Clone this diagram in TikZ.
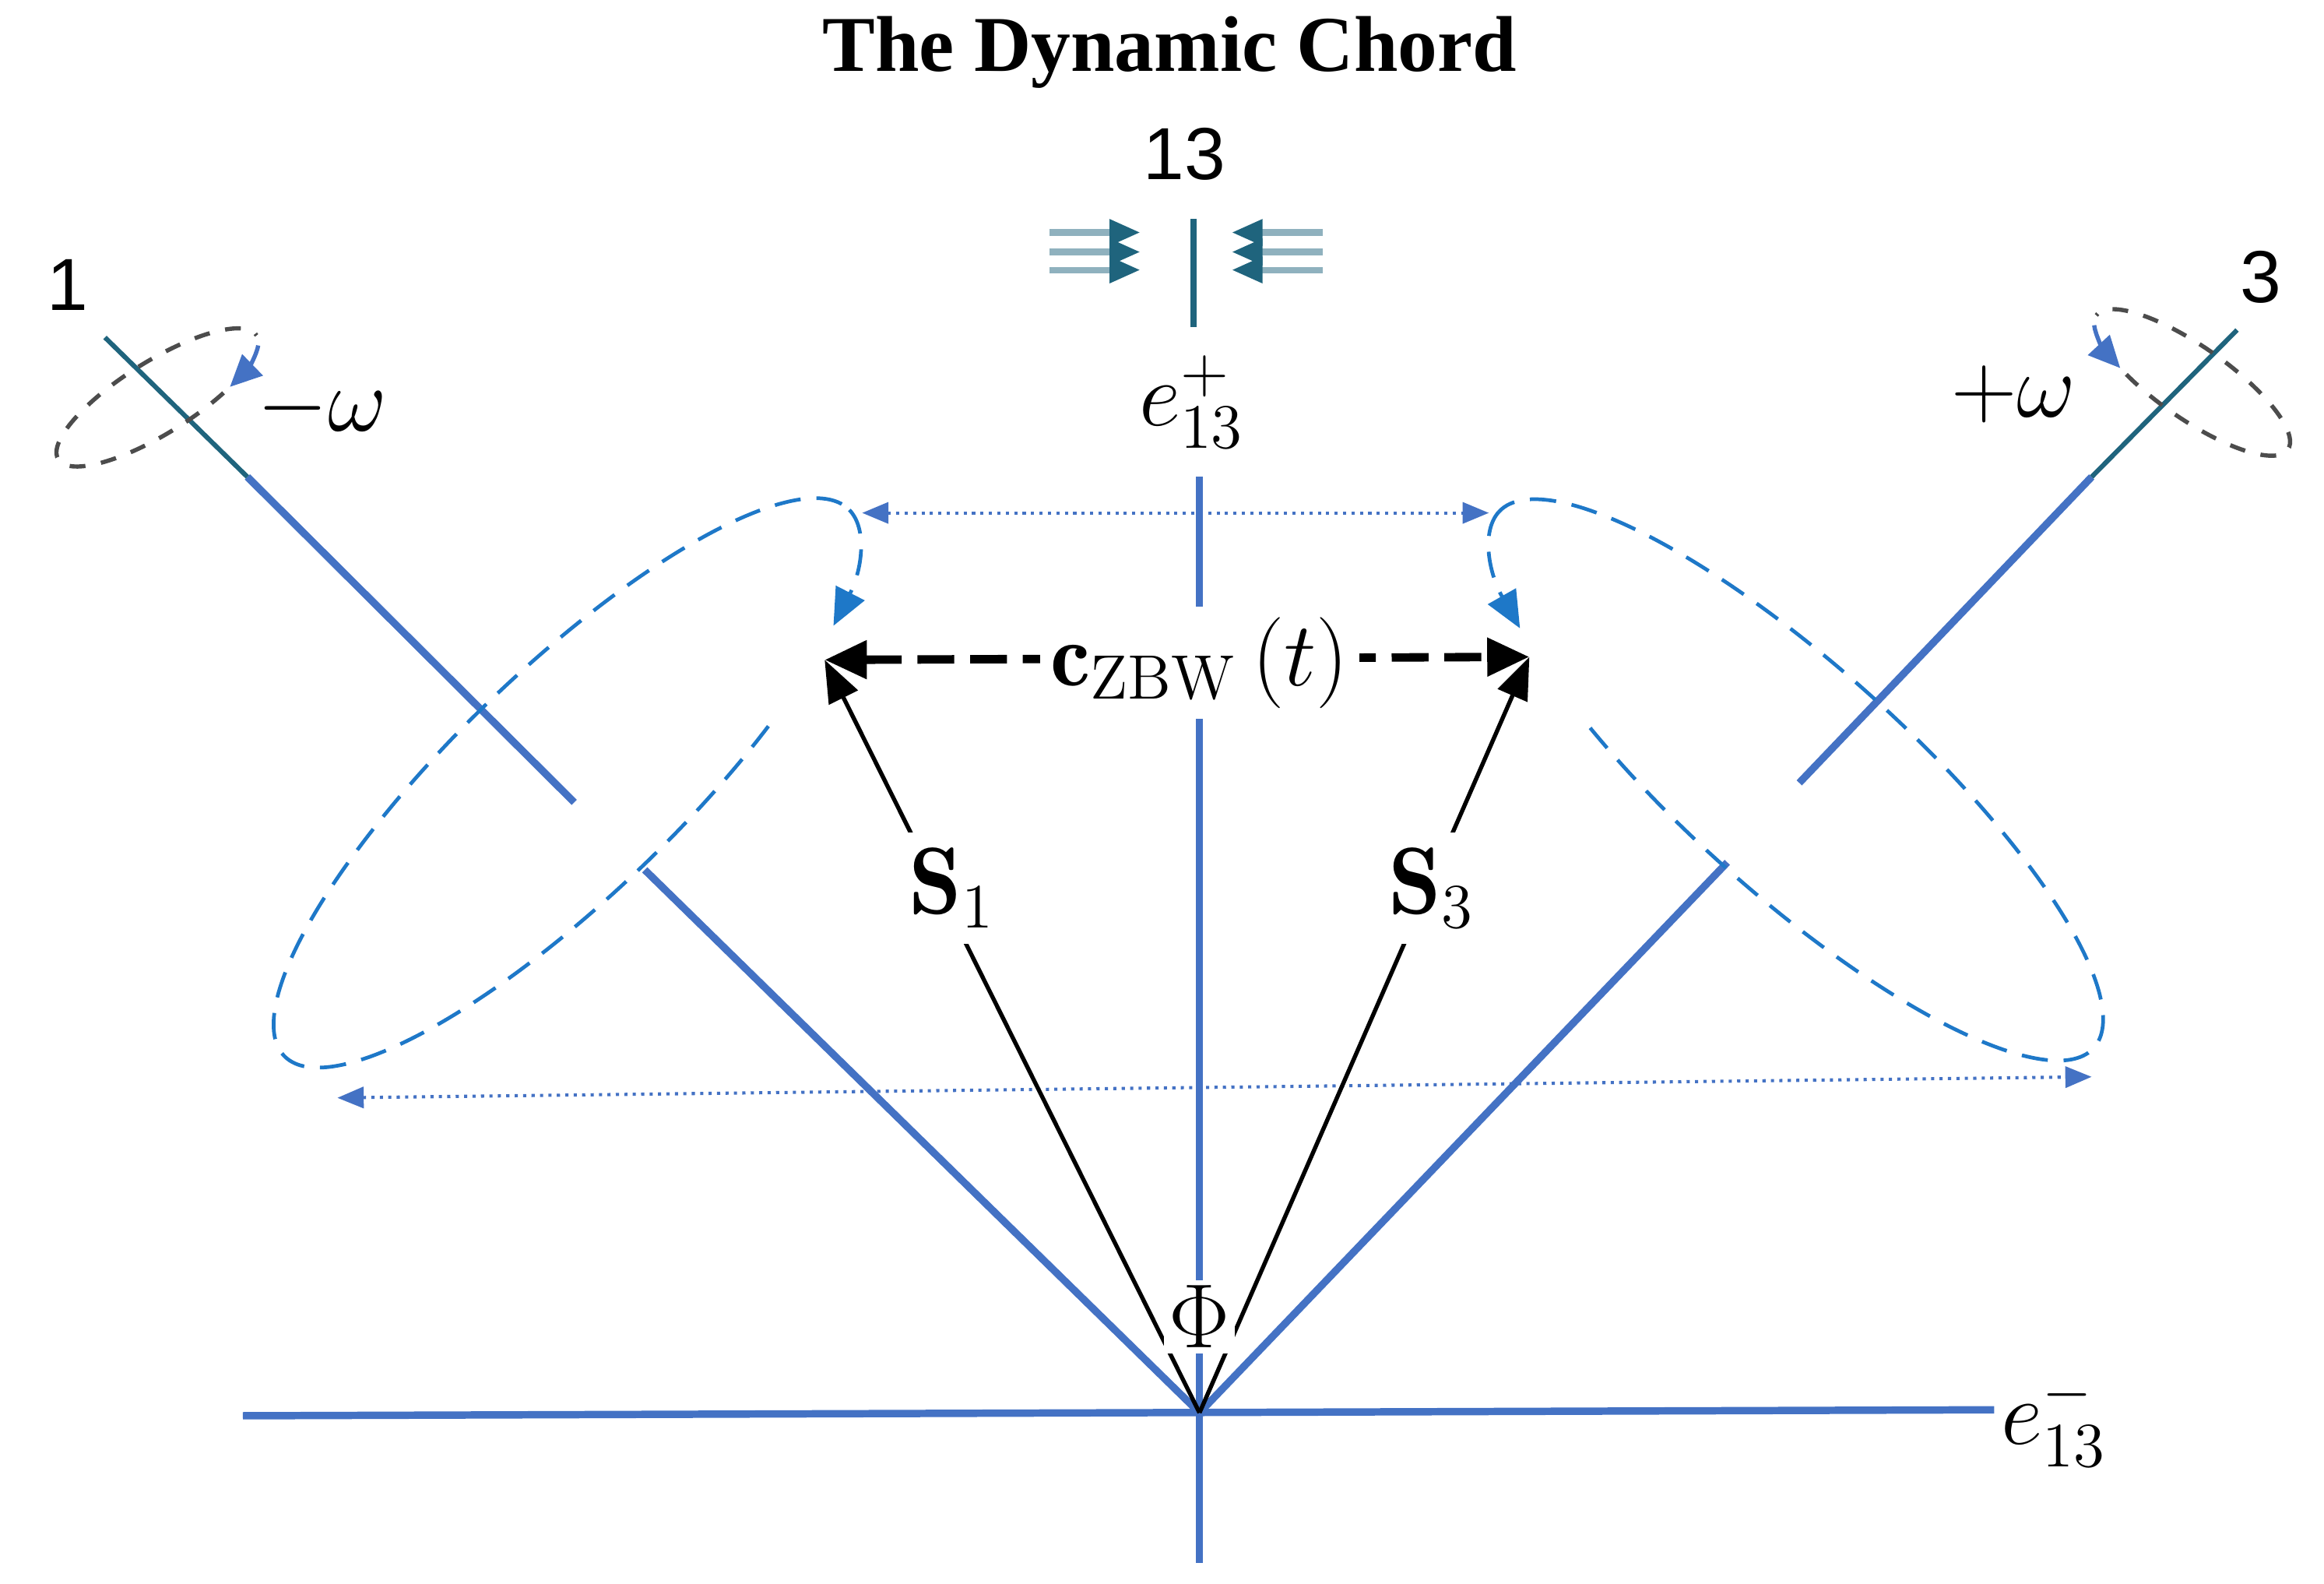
\documentclass[tikz,border=0pt]{standalone}
\usepackage{fontspec}
\newfontfamily\sansf{Liberation Sans}
\newfontfamily\seriff{Liberation Serif}
\usetikzlibrary{arrows.meta}
\definecolor{bl}{RGB}{68,114,196}
\definecolor{tl}{RGB}{31,100,125}
\definecolor{db}{RGB}{30,120,200}
\begin{document}
\begin{tikzpicture}[x=0.1mm,y=-0.1mm,
  axis/.style={bl,line width=1.4pt},
  tax/.style={tl,line width=0.9pt},
  bigell/.style={db,dashed,line width=0.7pt,dash pattern=on 5pt off 3pt},
  smallell/.style={black!70,dashed,line width=0.8pt},
  tip/.style={-{Triangle[length=6pt,width=5.5pt]},bl,line width=0.8pt},
  dotarr/.style={bl,densely dotted,line width=0.6pt,{Triangle[length=5pt,width=4pt]}-{Triangle[length=5pt,width=4pt]}},
  lab/.style={font=\fontsize{16}{18}\selectfont},
  num/.style={font=\sansf\fontsize{14}{16}\selectfont}]
\useasboundingbox (0,0) rectangle (1550,1056);
\coordinate (O) at (800,942);
% axes
\draw[axis] (800,318) -- (800,1042);
\draw[axis] (162,944) -- (1330,940);
\draw[tl,line width=1.3pt] (796,146) -- (796,218);
% left diagonal
\draw[axis] (O) -- (430,580);
\draw[axis] (383,535) -- (165,318);
\draw[tax] (165,318) -- (70,225);
% right diagonal
\draw[axis] (O) -- (1152,575);
\draw[axis] (1200,522) -- (1395,318);
\draw[tax] (1395,318) -- (1492,220);
% flux arrows
\foreach \yy in {155,168,180}{
  \draw[tl!50,line width=1.2pt] (700,\yy) -- (742,\yy);
  \fill[tl] (740,\yy-9) -- (760,\yy) -- (740,\yy+9) -- cycle;
  \draw[tl!50,line width=1.2pt] (840,\yy) -- (882,\yy);
  \fill[tl] (842,\yy-9) -- (822,\yy) -- (842,\yy+9) -- cycle;
}
\node[num] (n13) at (790,103) {13};
\node[num] (n1) at (45,190) {1};
\node[num] (n3) at (1508,185) {3};
% small ellipses
\begin{scope}[shift={(105,265)},rotate=32]
\draw[smallell] (60:78 and 24) arc[start angle=60,end angle=360,x radius=78,y radius=24];
\draw[tip] (15:78 and 24) arc[start angle=15,end angle=55,x radius=78,y radius=24];
\end{scope}
\begin{scope}[shift={(1462,255)},rotate=-35]
\draw[smallell] (120:78 and 24) arc[start angle=120,end angle=-180,x radius=78,y radius=24];
\draw[tip] (165:78 and 24) arc[start angle=165,end angle=125,x radius=78,y radius=24];
\end{scope}
\node[lab] (mw) at (215,272) {$-\omega$};
\node[lab] (pw) at (1343,263) {$+\omega$};
\node[lab,font=\fontsize{18}{20}\selectfont] (ep) at (795,268) {$e_{13}^{+}$};
\node[lab,font=\fontsize{18}{20}\selectfont] (em) at (1370,947) {$e_{13}^{-}$};
% big ellipses
\begin{scope}[shift={(378,522)},rotate=44]
\draw[bigell] (62:262 and 75) arc[start angle=62,end angle=360,x radius=262,y radius=75];
\draw[bigell,-{Triangle[length=7pt,width=6pt]}] (0:262 and 75) arc[start angle=0,end angle=40,x radius=262,y radius=75];
\end{scope}
\begin{scope}[shift={(1198,520)},rotate=-42]
\draw[bigell] (118:267 and 75) arc[start angle=118,end angle=-180,x radius=267,y radius=75];
\draw[bigell,-{Triangle[length=7pt,width=6pt]}] (180:267 and 75) arc[start angle=180,end angle=140,x radius=267,y radius=75];
\end{scope}
% dotted double arrows
\coordinate (ta) at (575,342); \coordinate (tb) at (993,342);
\coordinate (ba) at (225,732); \coordinate (bb) at (1395,718);
\draw[dotarr] (ta) -- (tb);
\draw[dotarr] (ba) -- (bb);
% S vectors
\coordinate (P1) at (550,440); \coordinate (P3) at (1020,438);
\draw[black,line width=0.8pt,-{Triangle[length=8pt,width=6pt]}] (O) -- (P1);
\draw[black,line width=0.8pt,-{Triangle[length=8pt,width=6pt]}] (O) -- (P3);
\draw[black,line width=1.6pt,dash pattern=on 7pt off 3pt,{Triangle[length=8pt,width=7pt]}-{Triangle[length=8pt,width=7pt]}] (P1) -- (P3);
\node[lab,fill=white,inner sep=2pt,font=\fontsize{17}{20}\selectfont] (cz) at (800,442) {$\mathbf{c}_{\mathrm{ZBW}}\left(t\right)$};
\node[lab,fill=white,inner sep=3pt,font=\fontsize{18}{20}\selectfont] (s1) at (635,592) {$\mathbf{S}_{1}$};
\node[lab,fill=white,inner sep=3pt,font=\fontsize{18}{20}\selectfont] (s3) at (955,592) {$\mathbf{S}_{3}$};
\node[lab,fill=white,inner sep=1pt] (phi) at (800,878) {$\Phi$};
\node[font=\seriff\bfseries\fontsize{15}{17}\selectfont] (title) at (780,35) {The Dynamic Chord};
\end{tikzpicture}
\end{document}
